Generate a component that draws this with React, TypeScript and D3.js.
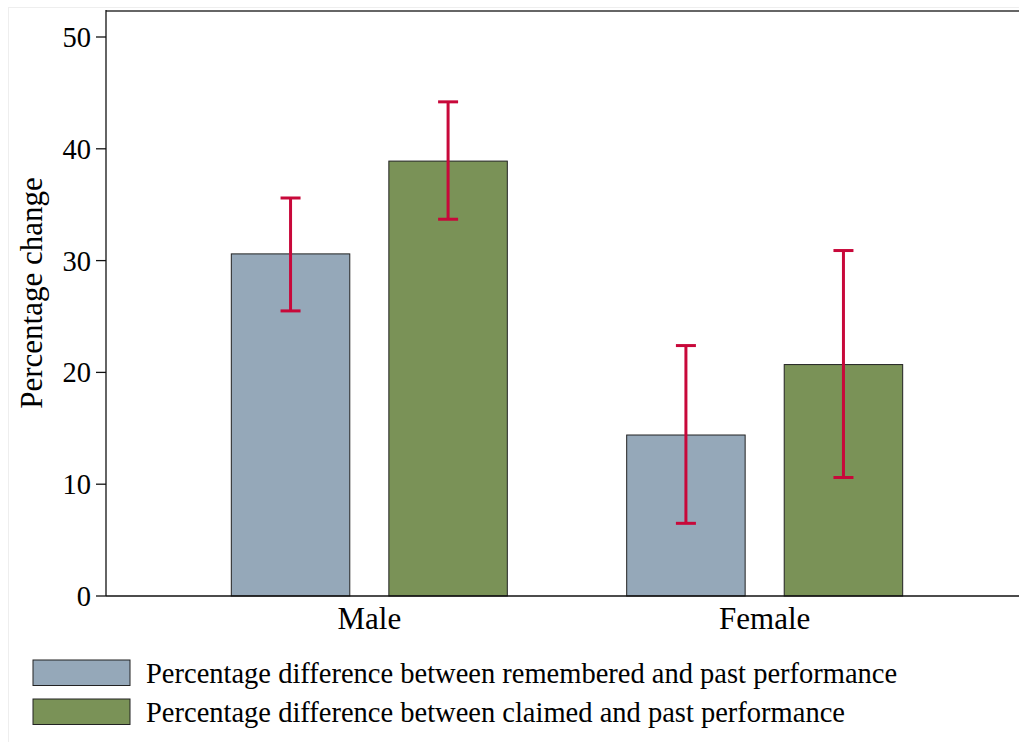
import React from "react";
import * as d3 from "d3";

const categories = ["Male", "Female"];
const seriesNames = [
  "Percentage difference between remembered and past performance",
  "Percentage difference between claimed and past performance",
];
const remembered = [30.6, 14.4];
const rememberedLow = [25.5, 6.5];
const rememberedHigh = [35.6, 22.4];
const claimed = [38.9, 20.7];
const claimedLow = [33.7, 10.6];
const claimedHigh = [44.2, 30.9];
const yTicks = [0, 10, 20, 30, 40, 50];
const colors = ["#95a8b9", "#7a9257"];

const W = 1019;
const H = 742;
const left = 106;
const right = 1028;
const top = 11;
const bottom = 596;

export default function App() {
  const y = d3.scaleLinear().domain([0, 50]).range([bottom, 37]);
  const x = d3
    .scaleBand<string>()
    .domain(categories)
    .range([left, right])
    .paddingInner(0)
    .paddingOuter(0.166);
  const groupW = 276;
  const inner = d3
    .scaleBand<number>()
    .domain([0, 1])
    .range([0, groupW])
    .paddingInner(0.248)
    .paddingOuter(0);
  const series = [
    { vals: remembered, lo: rememberedLow, hi: rememberedHigh },
    { vals: claimed, lo: claimedLow, hi: claimedHigh },
  ];
  const font = "'Liberation Serif', 'Times New Roman', serif";
  const capW = 20;
  const fs = 28.5;
  const fsLab = 31;
  return (
    <svg
      width={W}
      height={H}
      style={{ position: "absolute", left: 0, top: 0, background: "#fff" }}
      fontFamily={font}
    >
      <rect x={8.5} y={7.5} width={W} height={H} fill="none" stroke="#eeeeee" strokeWidth={1} />
      {categories.map((c, ci) => {
        const gx = (x(c) as number) + x.bandwidth() / 2 - groupW / 2;
        return series.map((s, si) => {
          const bx = gx + (inner(si) as number);
          const bw = inner.bandwidth();
          const v = s.vals[ci];
          return (
            <rect
              key={c + si}
              x={bx}
              y={y(v)}
              width={bw}
              height={y(0) - y(v)}
              fill={colors[si]}
              stroke="#222"
              strokeWidth={1}
            />
          );
        });
      })}
      {categories.map((c, ci) => {
        const gx = (x(c) as number) + x.bandwidth() / 2 - groupW / 2;
        return series.map((s, si) => {
          const cx = gx + (inner(si) as number) + inner.bandwidth() / 2;
          const yl = y(s.lo[ci]);
          const yh = y(s.hi[ci]);
          return (
            <g key={"e" + c + si} stroke="#c8083a" strokeWidth={3}>
              <line x1={cx} x2={cx} y1={yl} y2={yh} />
              <line x1={cx - capW / 2} x2={cx + capW / 2} y1={yl} y2={yl} />
              <line x1={cx - capW / 2} x2={cx + capW / 2} y1={yh} y2={yh} />
            </g>
          );
        });
      })}
      <line x1={left} x2={W} y1={top} y2={top} stroke="#666" strokeWidth={2} />
      <line x1={left} x2={left} y1={top - 1} y2={bottom} stroke="#111" strokeWidth={1.3} />
      <line x1={left} x2={W} y1={bottom} y2={bottom} stroke="#111" strokeWidth={1.3} />
      {yTicks.map((t) => (
        <g key={t}>
          <line x1={left - 10} x2={left} y1={y(t)} y2={y(t)} stroke="#111" strokeWidth={1.3} />
          <text x={left - 15} y={y(t)} dy="0.35em" textAnchor="end" fontSize={fs} fill="#000">
            {t}
          </text>
        </g>
      ))}
      <text
        transform={`translate(42, 293) rotate(-90)`}
        textAnchor="middle"
        fontSize={fsLab}
        fill="#000"
      >
        Percentage change
      </text>
      {categories.map((c) => (
        <text
          key={c}
          x={(x(c) as number) + x.bandwidth() / 2}
          y={629}
          textAnchor="middle"
          fontSize={fsLab}
          fill="#000"
        >
          {c}
        </text>
      ))}
      {seriesNames.map((n, i) => {
        const ly = 660 + i * 39;
        return (
          <g key={n}>
            <rect x={33} y={ly} width={97} height={25.5} fill={colors[i]} stroke="#222" strokeWidth={1} />
            <text x={146} y={ly + 13} dy="0.35em" fontSize={fs} fill="#000">
              {n}
            </text>
          </g>
        );
      })}
    </svg>
  );
}
